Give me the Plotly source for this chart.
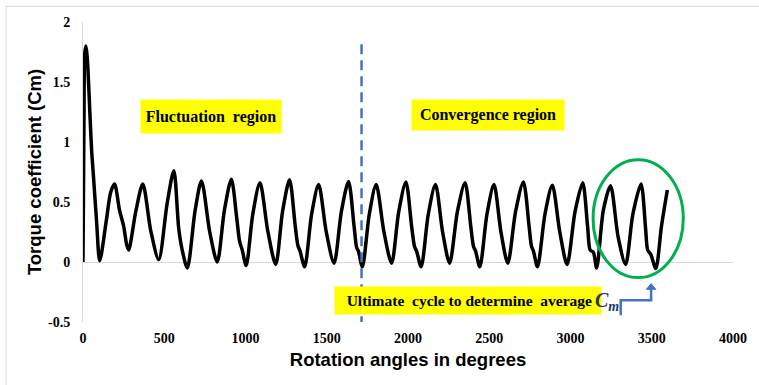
import plotly.graph_objects as go

# ---- data ----
angle_deg = [
    0, 6, 11, 18, 25, 30, 42, 53, 62, 83, 103,
    144, 170, 194, 225, 250, 268, 281,
    326, 368, 417, 466,
    518, 559, 589, 612, 642,
    690, 729, 780, 826,
    870, 913, 945, 964, 980, 1004,
    1045, 1089, 1137, 1186,
    1228, 1271, 1306, 1322, 1336, 1364,
    1407, 1450, 1497, 1545,
    1590, 1634, 1668, 1684, 1695, 1719,
    1762, 1804, 1852, 1899,
    1943, 1987, 2022, 2040, 2053, 2081,
    2125, 2169, 2213, 2256,
    2304, 2351, 2386, 2403, 2416, 2442,
    2486, 2529, 2572, 2614,
    2662, 2710, 2745, 2760, 2772, 2797,
    2843, 2888, 2934, 2979,
    3028, 3075, 3105, 3121, 3141, 3161,
    3202, 3246, 3293, 3339,
    3384, 3434, 3462, 3475, 3495, 3525,
    3560, 3596,
]
torque_cm = [
    0.00, 1.20, 1.74, 1.80, 1.72, 1.62, 1.25, 0.93, 0.76, 0.35, 0.01,
    0.35, 0.58, 0.65, 0.43, 0.30, 0.15, 0.10,
    0.43, 0.65, 0.26, 0.02,
    0.49, 0.76, 0.28, 0.09, -0.05,
    0.43, 0.675, 0.25, 0.00,
    0.43, 0.69, 0.38, 0.17, 0.10, -0.03,
    0.40, 0.66, 0.26, -0.02,
    0.42, 0.685, 0.30, 0.14, 0.09, -0.04,
    0.40, 0.645, 0.25, -0.01,
    0.42, 0.67, 0.30, 0.12, 0.09, -0.04,
    0.40, 0.645, 0.25, -0.01,
    0.42, 0.667, 0.30, 0.13, 0.09, -0.04,
    0.40, 0.645, 0.25, -0.01,
    0.42, 0.66, 0.30, 0.13, 0.09, -0.04,
    0.40, 0.645, 0.25, -0.01,
    0.42, 0.667, 0.30, 0.13, 0.09, -0.04,
    0.40, 0.64, 0.25, -0.02,
    0.42, 0.66, 0.30, 0.10, 0.08, -0.05,
    0.43, 0.635, 0.21, -0.02,
    0.40, 0.65, 0.28, 0.10, 0.06, -0.055,
    0.30, 0.60,
]

x_tick_vals = [0, 500, 1000, 1500, 2000, 2500, 3000, 3500, 4000]
x_tick_text = ["0", "500", "1000", "1500", "2000", "2500", "3000", "3500", "4000"]
y_tick_vals = [-0.5, 0, 0.5, 1, 1.5, 2]
y_tick_text = ["-0.5", "0", "0.5", "1", "1.5", "2"]

region_boundary_deg = 1714

fig = go.Figure()
fig.add_trace(go.Scatter(
    x=angle_deg, y=torque_cm, mode="lines",
    line=dict(color="black", width=3.5, shape="spline", smoothing=0.8),
    hoverinfo="skip", showlegend=False,
))

SERIF = "Liberation Serif"
SANS = "Liberation Sans"
BLUE = "#4472c4"

shapes = [
    # outer chart border (only top/left visible)
    dict(type="rect", xref="paper", yref="paper", x0=-0.1185, x1=1.3, y0=-0.5, y1=1.052,
         line=dict(color="#d9d9d9", width=1), layer="below"),
    # dashed boundary
    dict(type="line", xref="x", yref="y", x0=region_boundary_deg, x1=region_boundary_deg,
         y0=-0.535, y1=1.83, line=dict(color=BLUE, width=2.5, dash="10px,6px")),
    # green ellipse
    dict(type="circle", xref="x", yref="y", x0=3139, x1=3694, y0=-0.13, y1=0.853,
         line=dict(color="#00b050", width=3)),
    # bent arrow
    dict(type="path", xref="x", yref="y",
         path="M 3309,-0.444 L 3309,-0.319 L 3496,-0.319 L 3496,-0.225",
         line=dict(color=BLUE, width=2.5)),
    dict(type="path", xref="x", yref="y",
         path="M 3467,-0.228 L 3525,-0.228 L 3496,-0.18 Z",
         line=dict(color=BLUE, width=1), fillcolor=BLUE),
]

annotations = [
    dict(x=790, y=1.21, xref="x", yref="y", text="Fluctuation\u00a0 region",
         showarrow=False, bgcolor="#ffff00", width=140, height=33, borderpad=0,
         font=dict(family=SERIF, size=16, color="black", weight="bold")),
    dict(x=2492, y=1.228, xref="x", yref="y", text="Convergence region",
         showarrow=False, bgcolor="#ffff00", width=152, height=30, borderpad=0,
         font=dict(family=SERIF, size=16, color="black", weight="bold")),
    dict(x=2371, y=-0.32, xref="x", yref="y",
         text="\u00a0\u00a0\u00a0Ultimate\u00a0 cycle to determine\u00a0 average",
         showarrow=False, bgcolor="#ffff00", width=266, height=27, borderpad=0, align="left",
         font=dict(family=SERIF, size=15.5, color="black", weight="bold")),
    dict(x=3138, y=-0.325, xref="x", yref="y", xanchor="left", yanchor="middle",
         text="<i>C</i><sub><i>m</i></sub>", showarrow=False,
         font=dict(family=SERIF, size=20, color="#1f3864", weight="bold")),
]

fig.update_layout(
    width=759, height=385,
    margin=dict(l=83, r=18, t=22, b=63),
    paper_bgcolor="white", plot_bgcolor="white",
    shapes=shapes, annotations=annotations,
    xaxis=dict(
        range=[0, 4000], tickvals=x_tick_vals, ticktext=x_tick_text,
        showgrid=False, zeroline=False, showline=False, ticks="",
        ticklabelstandoff=6,
        tickfont=dict(family=SERIF, size=14, color="black", weight="bold"),
        title=dict(text="Rotation angles in degrees", standoff=8,
                   font=dict(family=SANS, size=18.5, color="black", weight="bold")),
    ),
    yaxis=dict(
        range=[-0.5, 2], tickvals=y_tick_vals, ticktext=y_tick_text,
        showgrid=False, zeroline=True, zerolinecolor="#d9d9d9", zerolinewidth=1,
        showline=True, linecolor="#d9d9d9", linewidth=1, ticks="",
        ticklabelstandoff=9,
        tickfont=dict(family=SERIF, size=14, color="black", weight="bold"),
        title=dict(text="Torque coefficient (Cm)", standoff=1,
                   font=dict(family=SANS, size=18.5, color="black", weight="bold")),
    ),
)

fig.write_html("out.html")
